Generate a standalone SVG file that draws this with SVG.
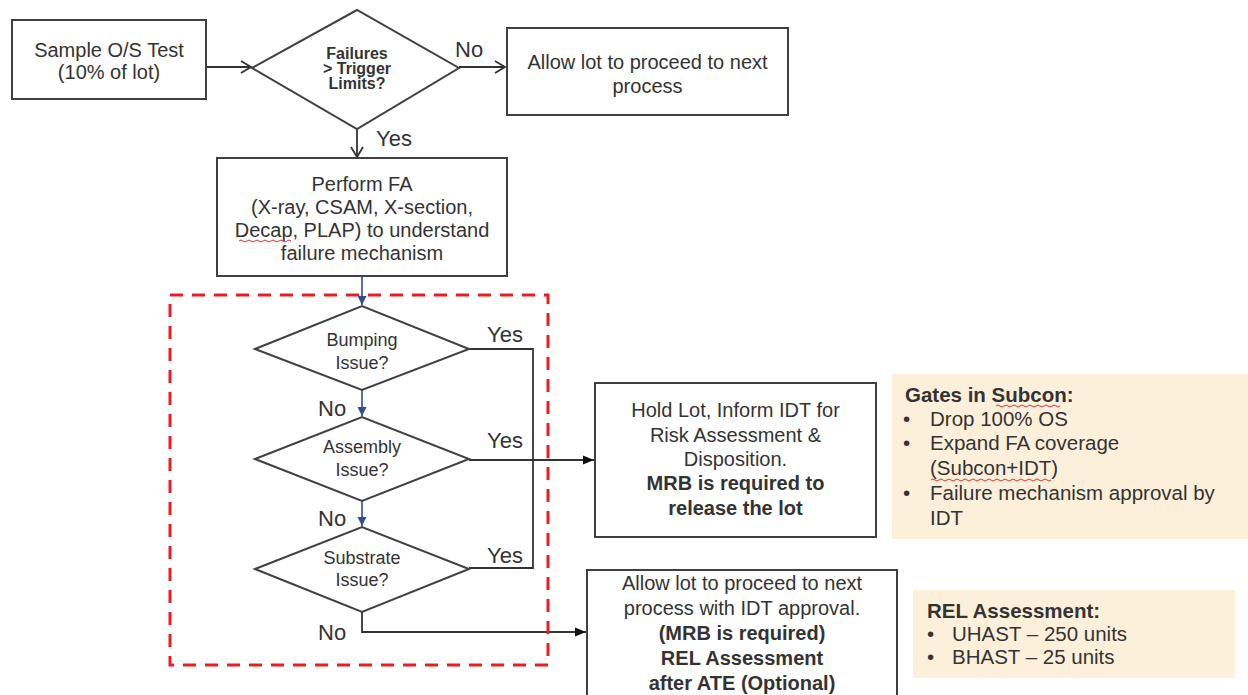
<svg xmlns="http://www.w3.org/2000/svg" width="1248" height="695" viewBox="0 0 1248 695">
<defs>
<style>
text{font-family:"Liberation Sans",Arial,sans-serif;fill:#333;}
.t{font-size:20px;text-anchor:middle;}
.b{font-weight:bold;}
.d{font-size:16px;font-weight:bold;text-anchor:middle;}
.q{font-size:18px;text-anchor:middle;}
.l{font-size:22px;}
.n{font-size:20.5px;}
.box{fill:#fff;stroke:#404040;stroke-width:2;}
.dia{fill:#fff;stroke:#404040;stroke-width:2;}
.ln{fill:none;stroke:#333;stroke-width:1.8;}
.blue{fill:none;stroke:#2f4b9a;stroke-width:1.6;}
.note{fill:#fdf0db;stroke:none;}
.sq{fill:none;stroke:#e03030;stroke-width:1;}
</style>
<marker id="open" markerUnits="userSpaceOnUse" markerWidth="14" markerHeight="14" refX="12" refY="7" orient="auto">
<path d="M2,1 L12,7 L2,13" fill="none" stroke="#333" stroke-width="1.8"/>
</marker>
<marker id="fill" markerUnits="userSpaceOnUse" markerWidth="12" markerHeight="10" refX="11" refY="5" orient="auto">
<path d="M0,0.5 L11,5 L0,9.5 Z" fill="#111"/>
</marker>
<marker id="blue" markerUnits="userSpaceOnUse" markerWidth="10" markerHeight="10" refX="9" refY="5" orient="auto">
<path d="M0,0.5 L9,5 L0,9.5 Z" fill="#2f4b9a"/>
</marker>
</defs>
<rect width="1248" height="695" fill="#fff"/>

<g id="connectors">
<path class="ln" d="M206,67 L251,67" marker-end="url(#open)"/>
<path class="ln" d="M459,67 L505,67" marker-end="url(#open)"/>
<path class="ln" d="M357,129 L357,157" marker-end="url(#open)"/>
<path class="blue" d="M362,276 L362,305" marker-end="url(#blue)"/>
<path class="blue" d="M362,390 L362,416" marker-end="url(#blue)"/>
<path class="blue" d="M362,501 L362,526" marker-end="url(#blue)"/>
<polyline class="ln" points="469,349 533,349 533,568 469,568"/>
<path class="ln" d="M469,460 L594,460" marker-end="url(#fill)"/>
<path class="ln" d="M362,612 L362,632 L586,632" marker-end="url(#fill)"/>
<text class="l" x="455" y="57">No</text>
<text class="l" x="376" y="146">Yes</text>
<text class="l" x="487" y="342">Yes</text>
<text class="l" x="318" y="416">No</text>
<text class="l" x="487" y="448">Yes</text>
<text class="l" x="318" y="526">No</text>
<text class="l" x="487" y="563">Yes</text>
<text class="l" x="318" y="640">No</text>
</g>

<g id="n-sample">
<rect class="box" x="12" y="20" width="194" height="79"/>
<text class="t" x="109" y="57">Sample O/S Test</text>
<text class="t" x="109" y="79">(10% of lot)</text>
</g>

<g id="n-trigger">
<polygon class="dia" points="252,68 357,10 459,68 357,129"/>
<text class="d" x="357" y="59">Failures</text>
<text class="d" x="357" y="74">&gt; Trigger</text>
<text class="d" x="357" y="89">Limits?</text>
</g>

<g id="n-allow1">
<rect class="box" x="507" y="28" width="281" height="87"/>
<text class="t" x="647.5" y="69">Allow lot to proceed to next</text>
<text class="t" x="647.5" y="93">process</text>
</g>

<g id="n-fa">
<rect class="box" x="217" y="158" width="290" height="118"/>
<text class="t" x="362" y="191">Perform FA</text>
<text class="t" x="362" y="214">(X-ray, CSAM, X-section,</text>
<text class="t" x="362" y="237">Decap, PLAP) to understand</text>
<text class="t" x="362" y="260">failure mechanism</text>
<path class="sq" d="M239,241 q2,-2 4,0 t4,0 t4,0 t4,0 t4,0 t4,0 t4,0 t4,0 t4,0 t4,0 t4,0 t4,0 t4,0"/>
</g>

<g id="n-group">
<rect x="170" y="295" width="378" height="370" fill="none" stroke="#ec1c24" stroke-width="3" stroke-dasharray="13 9"/>
</g>

<g id="n-bumping">
<polygon class="dia" points="255,349 362,306 469,349 362,390"/>
<text class="q" x="362" y="346">Bumping</text>
<text class="q" x="362" y="369">Issue?</text>
</g>

<g id="n-assembly">
<polygon class="dia" points="255,459 362,417 469,459 362,501"/>
<text class="q" x="362" y="453">Assembly</text>
<text class="q" x="362" y="476">Issue?</text>
</g>

<g id="n-substrate">
<polygon class="dia" points="255,569 362,527 469,569 362,612"/>
<text class="q" x="362" y="564">Substrate</text>
<text class="q" x="362" y="586">Issue?</text>
</g>

<g id="n-hold">
<rect class="box" x="595" y="383" width="281" height="154"/>
<text class="t" x="735.5" y="417">Hold Lot, Inform IDT for</text>
<text class="t" x="735.5" y="442">Risk Assessment &amp;</text>
<text class="t" x="735.5" y="466">Disposition.</text>
<text class="t b" x="735.5" y="490">MRB is required to</text>
<text class="t b" x="735.5" y="515">release the lot</text>
</g>

<g id="n-allow2">
<rect class="box" x="587" y="570" width="310" height="135"/>
<text class="t" x="742" y="590">Allow lot to proceed to next</text>
<text class="t" x="742" y="615">process with IDT approval.</text>
<text class="t b" x="742" y="640">(MRB is required)</text>
<text class="t b" x="742" y="665">REL Assessment</text>
<text class="t b" x="742" y="690">after ATE (Optional)</text>
</g>

<g id="n-gates">
<rect class="note" x="892" y="374" width="356" height="165"/>
<text class="n b" x="905" y="402">Gates in Subcon:</text>
<text class="n" x="903" y="426">•</text>
<text class="n" x="930" y="426">Drop 100% OS</text>
<text class="n" x="903" y="450">•</text>
<text class="n" x="930" y="450">Expand FA coverage</text>
<text class="n" x="930" y="475">(Subcon+IDT)</text>
<text class="n" x="903" y="500">•</text>
<text class="n" x="930" y="500">Failure mechanism approval by</text>
<text class="n" x="930" y="525">IDT</text>
<path class="sq" d="M996,406 q2,-2 4,0 t4,0 t4,0 t4,0 t4,0 t4,0 t4,0 t4,0 t4,0 t4,0 t4,0 t4,0 t4,0 t4,0 t4,0 t4,0"/>
<path class="sq" d="M931,480 q2,-2 4,0 t4,0 t4,0 t4,0 t4,0 t4,0 t4,0 t4,0 t4,0 t4,0 t4,0 t4,0 t4,0 t4,0 t4,0 t4,0 t4,0 t4,0 t4,0 t4,0 t4,0 t4,0 t4,0 t4,0 t4,0 t4,0 t4,0 t4,0 t4,0 t4,0"/>
</g>

<g id="n-rel">
<rect class="note" x="913" y="590" width="322" height="88"/>
<text class="n b" x="927" y="618">REL Assessment:</text>
<text class="n" x="927" y="641">•</text>
<text class="n" x="952" y="641">UHAST – 250 units</text>
<text class="n" x="927" y="664">•</text>
<text class="n" x="952" y="664">BHAST – 25 units</text>
</g>
</svg>
